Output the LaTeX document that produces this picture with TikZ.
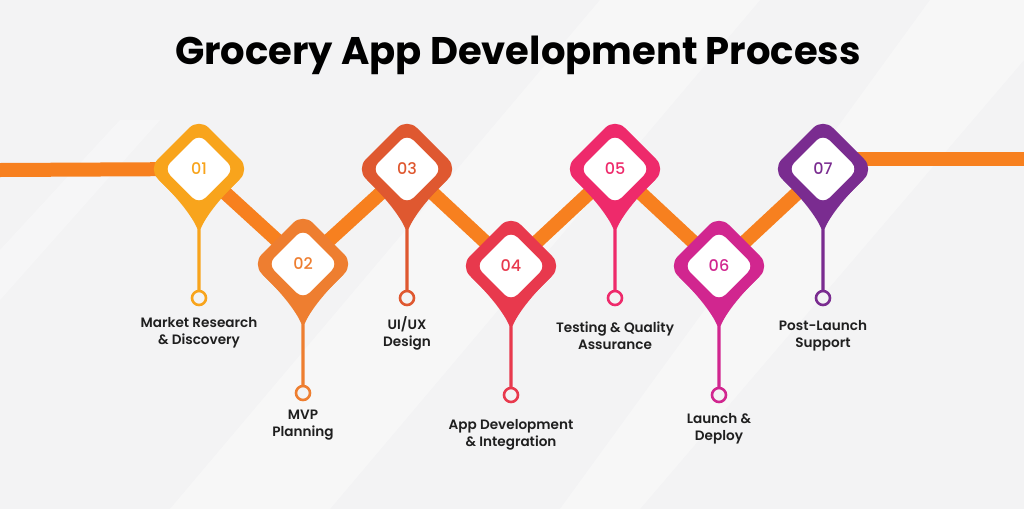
\documentclass[tikz,border=0pt]{standalone}
\usepackage{fontspec}
\setmainfont{Poppins}
\newfontfamily\lblfont{Poppins SemiBold}
\newfontfamily\numfont{Poppins Medium}
\definecolor{bg}{HTML}{F3F3F4}
\definecolor{linec}{HTML}{F7801F}
\definecolor{cA}{HTML}{F8A41C}
\definecolor{cB}{HTML}{EE7E30}
\definecolor{cC}{HTML}{DF5830}
\definecolor{cD}{HTML}{E8394D}
\definecolor{cE}{HTML}{EE2A6B}
\definecolor{cF}{HTML}{D1268F}
\definecolor{cG}{HTML}{7A2C90}
\newcommand\mkpin[4]{% #1 coord, #2 colour, #3 number, #4 node name
  \begin{scope}[shift={(#1)}]
    \fill[#2] (-40,11) .. controls (-26,24) and (-7,46) .. (-1.6,60) -- (-1.6,123) -- (1.6,123) -- (1.6,60) .. controls (7,46) and (26,24) .. (40,11) -- cycle;
    \fill[#2, rounded corners=14pt] (0,-51) -- (51,0) -- (0,51) -- (-51,0) -- cycle;
    \fill[white, rounded corners=9pt] (0,-35) -- (35,0) -- (0,35) -- (-35,0) -- cycle;
    \node[numtxt, text=#2] (#4) at (0,0) {#3};
    \draw[ring, draw=#2] (0,129) circle (7);
  \end{scope}}
\begin{document}
\begin{tikzpicture}[x=1pt,y=-1pt,
  link/.style={line width=14pt, color=linec},
  numtxt/.style={font=\numfont\fontsize{16}{16}\selectfont, inner sep=0pt},
  lbl/.style={font=\lblfont\fontsize{13.6}{17}\selectfont, align=center, text=black!88, inner sep=0pt},
  ring/.style={line width=2.6pt, fill=bg}]
\useasboundingbox (0,0) rectangle (1024,509);
\fill[bg] (0,0) rectangle (1024,509);
\fill[white, opacity=0.35] (600,0) -- (760,0) -- (330,509) -- (170,509) -- cycle;
\fill[white, opacity=0.35] (930,0) -- (1024,0) -- (1024,60) -- (640,509) -- (560,509) -- cycle;
\fill[white, opacity=0.3] (0,250) -- (120,120) -- (160,120) -- (0,300) -- cycle;
% title
\node[font=\bfseries\fontsize{38.5}{42}\selectfont, inner sep=0pt] (title) at (518,55) {Grocery App Development Process};
% anchor points
\coordinate (lstart) at (0,170);
\coordinate (p1) at (199,169);
\coordinate (p2) at (303,264);
\coordinate (p3) at (407,169);
\coordinate (p4) at (511,266);
\coordinate (p5) at (615,169);
\coordinate (p6) at (719,266);
\coordinate (p7) at (823,169);
\coordinate (p7r) at (823,159);
\coordinate (rend) at (1024,159);
\draw[link] (lstart) -- (p1) -- (p2) -- (p3) -- (p4) -- (p5) -- (p6) -- (p7);
\draw[link] (p7r) -- (rend);
% pins
\mkpin{p1}{cA}{01}{n1}
\mkpin{p2}{cB}{02}{n2}
\mkpin{p3}{cC}{03}{n3}
\mkpin{p4}{cD}{04}{n4}
\mkpin{p5}{cE}{05}{n5}
\mkpin{p6}{cF}{06}{n6}
\mkpin{p7}{cG}{07}{n7}
% labels
\node[lbl] (l1) at (199,333) {Market Research\\\& Discovery};
\node[lbl] (l2) at (303,425) {MVP\\Planning};
\node[lbl] (l3) at (407,333) {UI/UX\\Design};
\node[lbl] (l4) at (511,435) {App Development\\\& Integration};
\node[lbl] (l5) at (615,336) {Testing \& Quality\\Assurance};
\node[lbl] (l6) at (719,429) {Launch \&\\Deploy};
\node[lbl] (l7) at (823,336) {Post-Launch\\Support};
\end{tikzpicture}
\end{document}
